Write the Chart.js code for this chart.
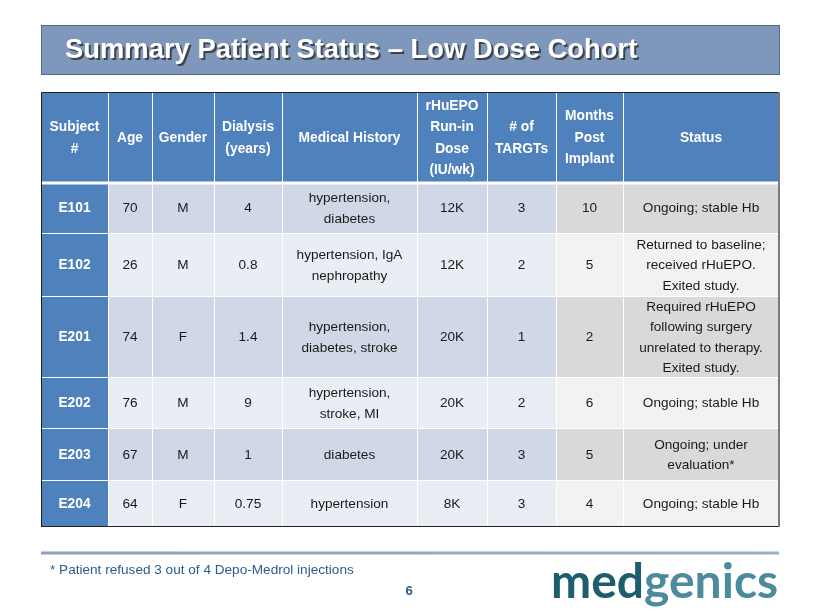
<!DOCTYPE html>
<html>
<head>
<meta charset="utf-8">
<script src="https://cdn.jsdelivr.net/npm/chart.js@4.4.1/dist/chart.umd.min.js"></script>
<style>
  html, body { margin: 0; padding: 0; background: #ffffff; }
  #wrap { width: 820px; height: 615px; }
</style>
</head>
<body>
<div id="wrap"><canvas id="tableChart" width="820" height="615"></canvas></div>
<script>
// Table contents
const headers = [['Subject', '#'], ['Age'], ['Gender'], ['Dialysis', '(years)'], ['Medical History'],
    ['rHuEPO', 'Run-in', 'Dose', '(IU/wk)'], ['# of', 'TARGTs'], ['Months', 'Post', 'Implant'], ['Status']];
const subjects = ['E101', 'E102', 'E201', 'E202', 'E203', 'E204'];
const ages = [70, 26, 74, 76, 67, 64];
const genders = ['M', 'M', 'F', 'M', 'M', 'F'];
const dialysisYears = ['4', '0.8', '1.4', '9', '1', '0.75'];
const medicalHistory = [
    ['hypertension,', 'diabetes'],
    ['hypertension, IgA', 'nephropathy'],
    ['hypertension,', 'diabetes, stroke'],
    ['hypertension,', 'stroke, MI'],
    ['diabetes'],
    ['hypertension']
];
const runInDose = ['12K', '12K', '20K', '20K', '20K', '8K'];
const targtCount = [3, 2, 1, 2, 3, 3];
const monthsPostImplant = [10, 5, 2, 6, 5, 4];
const status = [
    ['Ongoing; stable Hb'],
    ['Returned to baseline;', 'received rHuEPO.', 'Exited study.'],
    ['Required rHuEPO', 'following surgery', 'unrelated to therapy.', 'Exited study.'],
    ['Ongoing; stable Hb'],
    ['Ongoing; under', 'evaluation*'],
    ['Ongoing; stable Hb']
];
const titleText = 'Summary Patient Status \u2013 Low Dose Cohort';
const footnote = '* Patient refused 3 out of 4 Depo-Medrol injections';
const pageNumber = '6';

// Layout (in scale units, same as page pixels)
const colEdges = [41, 108, 152, 214, 282, 417, 487, 556, 623, 779];
const rowEdges = [92, 182, 233, 296, 377, 428, 480, 526];

function rowCells(i) {
    return [[subjects[i]], [String(ages[i])], [genders[i]], [dialysisYears[i]], medicalHistory[i],
        [runInDose[i]], [String(targtCount[i])], [String(monthsPostImplant[i])], status[i]];
}

function cellFill(r, c) {
    if (c === 0) return '#4F81BD';
    var dark = r % 2 === 0;
    if (c >= 7) return dark ? '#D9D9D9' : '#F2F2F2';
    return dark ? '#D0D8E8' : '#E9EDF4';
}

function drawLines(ctx, lines, cx, cy, lh) {
    var y0 = cy - (lines.length - 1) * lh / 2;
    lines.forEach(function (t, k) {
        ctx.fillText(t, cx, y0 + k * lh);
    });
}

const tablePlugin = {
    id: 'tablePlugin',
    afterDraw: function (chart) {
        var ctx = chart.ctx;
        var x = chart.scales.x, y = chart.scales.y;
        var px = function (v) { return x.getPixelForValue(v); };
        var py = function (v) { return y.getPixelForValue(v); };
        ctx.save();

        // Title banner
        ctx.fillStyle = '#7F97BA';
        ctx.fillRect(px(41), py(25), px(779) - px(41), py(74) - py(25));
        ctx.strokeStyle = '#4D6E7E';
        ctx.lineWidth = 1;
        ctx.strokeRect(px(41) + 0.5, py(25) + 0.5, px(779) - px(41), py(74) - py(25));
        ctx.font = 'bold 27.4px "Liberation Sans", Arial, sans-serif';
        ctx.textAlign = 'left';
        ctx.textBaseline = 'middle';
        ctx.fillStyle = 'rgba(40,40,40,0.75)';
        ctx.fillText(titleText, px(67), py(52));
        ctx.fillStyle = '#ffffff';
        ctx.fillText(titleText, px(65), py(50));

        // Header cells
        ctx.textAlign = 'center';
        for (var c = 0; c < headers.length; c++) {
            var x0 = px(colEdges[c]), x1 = px(colEdges[c + 1]);
            ctx.fillStyle = '#4F81BD';
            ctx.fillRect(x0, py(rowEdges[0]), x1 - x0, py(rowEdges[1]) - py(rowEdges[0]));
            ctx.fillStyle = '#ffffff';
            ctx.font = 'bold 13.8px "Liberation Sans", Arial, sans-serif';
            drawLines(ctx, headers[c], (x0 + x1) / 2, (py(rowEdges[0]) + py(rowEdges[1])) / 2 + 1, 21.5);
        }

        // Body cells
        for (var r = 0; r < subjects.length; r++) {
            var cells = rowCells(r);
            var y0 = py(rowEdges[r + 1]), y1 = py(rowEdges[r + 2]);
            for (var c2 = 0; c2 < cells.length; c2++) {
                var xa = px(colEdges[c2]), xb = px(colEdges[c2 + 1]);
                ctx.fillStyle = cellFill(r, c2);
                ctx.fillRect(xa, y0, xb - xa, y1 - y0);
                if (c2 === 0) {
                    ctx.fillStyle = '#ffffff';
                    ctx.font = 'bold 13.8px "Liberation Sans", Arial, sans-serif';
                } else {
                    ctx.fillStyle = '#1a1a1a';
                    ctx.font = '13.6px "Liberation Sans", Arial, sans-serif';
                }
                drawLines(ctx, cells[c2], (xa + xb) / 2, (y0 + y1) / 2 + 1, 20.5);
            }
        }

        // White grid lines
        ctx.strokeStyle = '#ffffff';
        ctx.lineWidth = 1;
        for (var i = 1; i < colEdges.length - 1; i++) {
            ctx.beginPath();
            ctx.moveTo(px(colEdges[i]) + 0.5, py(rowEdges[0]));
            ctx.lineTo(px(colEdges[i]) + 0.5, py(rowEdges[rowEdges.length - 1]));
            ctx.stroke();
        }
        for (var j = 2; j < rowEdges.length - 1; j++) {
            ctx.beginPath();
            ctx.moveTo(px(colEdges[0]), py(rowEdges[j]) + 0.5);
            ctx.lineTo(px(colEdges[colEdges.length - 1]), py(rowEdges[j]) + 0.5);
            ctx.stroke();
        }
        ctx.lineWidth = 3;
        ctx.beginPath();
        ctx.moveTo(px(colEdges[0]), py(rowEdges[1]) + 1);
        ctx.lineTo(px(colEdges[colEdges.length - 1]), py(rowEdges[1]) + 1);
        ctx.stroke();

        // Outer border
        var L = px(colEdges[0]), R = px(colEdges[colEdges.length - 1]);
        var T = py(rowEdges[0]), B = py(rowEdges[rowEdges.length - 1]);
        ctx.strokeStyle = '#222222';
        ctx.lineWidth = 1;
        ctx.beginPath();
        ctx.moveTo(L + 0.5, B); ctx.lineTo(L + 0.5, T + 0.5); ctx.lineTo(R, T + 0.5);
        ctx.moveTo(L, B + 0.5); ctx.lineTo(R, B + 0.5);
        ctx.stroke();
        ctx.strokeStyle = '#7a7a7a';
        ctx.lineWidth = 2;
        ctx.beginPath();
        ctx.moveTo(R, T); ctx.lineTo(R, B + 1);
        ctx.stroke();

        // Footer rule
        var grad = ctx.createLinearGradient(px(41), 0, px(779), 0);
        grad.addColorStop(0, '#8DA0BC');
        grad.addColorStop(1, '#9AAFC8');
        ctx.strokeStyle = grad;
        ctx.lineWidth = 3;
        ctx.beginPath();
        ctx.moveTo(px(41), py(553)); ctx.lineTo(px(779), py(553));
        ctx.stroke();

        // Footnote and page number
        ctx.textAlign = 'left';
        ctx.textBaseline = 'alphabetic';
        ctx.fillStyle = '#2C5C8C';
        ctx.font = '13.6px "Liberation Sans", Arial, sans-serif';
        ctx.fillText(footnote, px(50), py(574));
        ctx.textAlign = 'center';
        ctx.font = 'bold 13px "Liberation Sans", Arial, sans-serif';
        ctx.fillText(pageNumber, px(409), py(595));

        // Logo
        ctx.textAlign = 'left';
        ctx.font = 'bold 48px Lato, "DejaVu Sans", sans-serif';
        ctx.fillStyle = '#1E5E6C';
        ctx.fillText('med', px(551), py(598));
        var w = ctx.measureText('med').width;
        ctx.fillStyle = '#4C8B9E';
        ctx.fillText('genics', px(551) + w, py(598));

        ctx.restore();
    }
};

document.addEventListener('DOMContentLoaded', function () {
    var ctx = document.getElementById('tableChart').getContext('2d');
    new Chart(ctx, {
        type: 'scatter',
        data: { datasets: [{ data: [], pointRadius: 0 }] },
        options: {
            responsive: false,
            animation: false,
            layout: { padding: 0 },
            plugins: { legend: { display: false }, tooltip: { enabled: false } },
            scales: {
                x: { type: 'linear', min: 0, max: 820, display: false },
                y: { type: 'linear', min: 0, max: 615, reverse: true, display: false }
            }
        },
        plugins: [tablePlugin]
    });
});
</script>
</body>
</html>
